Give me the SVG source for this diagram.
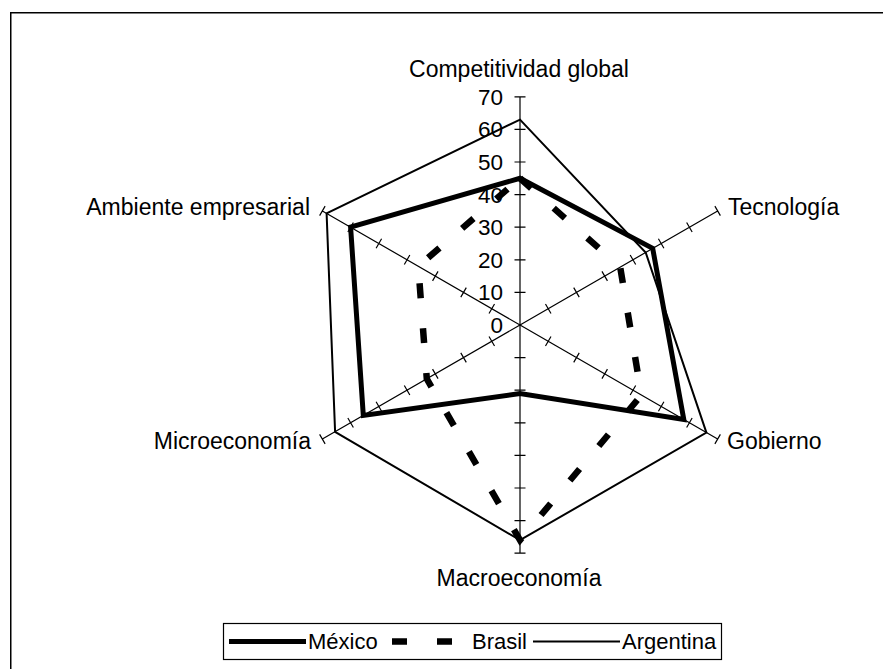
<svg xmlns="http://www.w3.org/2000/svg" xmlns:xlink="http://www.w3.org/1999/xlink" width="883" height="669" viewBox="0 0 883 669">
<style>
text{font-family:"Liberation Sans",Arial,sans-serif;fill:#000}
.cat{font-size:23px}
.num{font-size:22.5px;text-anchor:end}
.leg{font-size:22px}
.ax{stroke:#000;stroke-width:1.2;fill:none}
.mex{stroke:#000;stroke-width:5;fill:none;stroke-linejoin:miter}
.bra{stroke:#000;stroke-width:6.5;fill:none;stroke-dasharray:15 30;stroke-linejoin:miter}
.arg{stroke:#000;stroke-width:2;fill:none;stroke-linejoin:miter}
</style>
<defs>
<g id="axis">
<path class="ax" d="M520 325V96.8M514.5 292.4h11M514.5 259.8h11M514.5 227.2h11M514.5 194.6h11M514.5 162h11M514.5 129.4h11M514.5 96.8h11"/>
</g>
</defs>
<rect x="10.75" y="12.75" width="900" height="700" fill="#fff" stroke="#000" stroke-width="1.5"/>
<g id="axes">
<use xlink:href="#axis"/>
<use xlink:href="#axis" transform="rotate(60 520 325)"/>
<use xlink:href="#axis" transform="rotate(120 520 325)"/>
<use xlink:href="#axis" transform="rotate(180 520 325)"/>
<use xlink:href="#axis" transform="rotate(240 520 325)"/>
<use xlink:href="#axis" transform="rotate(300 520 325)"/>
</g>
<g id="scale">
<text class="num" x="503" y="333">0</text>
<text class="num" x="503" y="300.4">10</text>
<text class="num" x="503" y="267.8">20</text>
<text class="num" x="503" y="235.2">30</text>
<text class="num" x="503" y="202.6">40</text>
<text class="num" x="503" y="170">50</text>
<text class="num" x="503" y="137.4">60</text>
<text class="num" x="503" y="104.8">70</text>
</g>
<g id="series">
<polygon id="mexico" class="mex" points="520,178.3 652.7,248.4 683.8,419.5 520,393.5 363.3,415.5 350.6,227.2"/>
<polygon id="brasil" class="bra" points="520,178.3 620.2,267.1 641.4,395.1 520,540.2 426.8,378.8 418.3,266.3"/>
<polygon id="argentina" class="arg" points="520,119.6 645.7,252.5 706.4,432.6 520,540.2 335.1,431.8 326.6,213.4"/>
</g>
<g id="labels">
<text class="cat" x="519" y="77" text-anchor="middle">Competitividad global</text>
<text class="cat" x="728" y="215">Tecnología</text>
<text class="cat" x="727" y="449">Gobierno</text>
<text class="cat" x="519" y="586" text-anchor="middle">Macroeconomía</text>
<text class="cat" x="311" y="449" text-anchor="end">Microeconomía</text>
<text class="cat" x="310" y="215" text-anchor="end">Ambiente empresarial</text>
</g>
<g id="legend">
<rect x="223.5" y="623.5" width="498" height="36" fill="#fff" stroke="#000" stroke-width="1.2"/>
<line class="mex" x1="229" y1="641.5" x2="306" y2="641.5"/>
<text class="leg" x="308" y="649">México</text>
<line class="bra" x1="392" y1="641.5" x2="453" y2="641.5"/>
<text class="leg" x="472" y="649">Brasil</text>
<line class="arg" x1="533" y1="641.5" x2="620" y2="641.5"/>
<text class="leg" x="622" y="649">Argentina</text>
</g>
</svg>
